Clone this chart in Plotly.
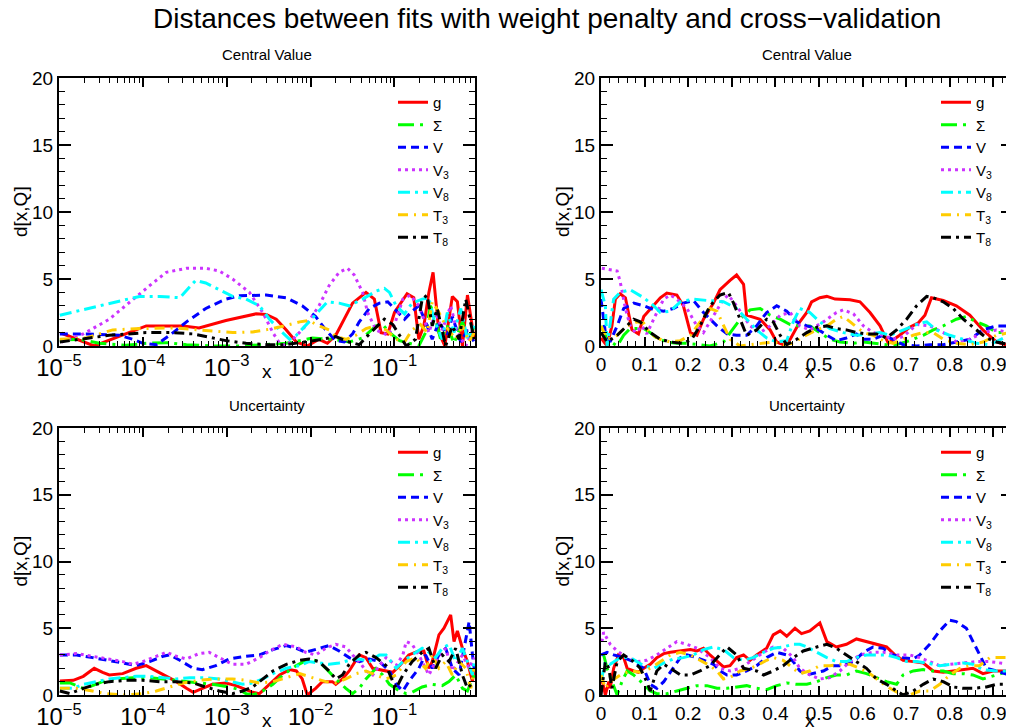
import plotly.graph_objects as go

# ---------------- data: Central Value, log-x panel (log10 x, d) ----------------
cv_log_lx_g = [-4.97,-4.58,-3.96,-3.52,-3.33,-3.01,-2.65,-2.53,-2.41,-2.29,-2.17,-2.04,-1.90,-1.80,-1.70,-1.50,-1.34,-1.24,-1.16,-1.08,-1.00,-0.85,-0.77,-0.71,-0.65,-0.59,-0.54,-0.47,-0.40,-0.31,-0.25,-0.19,-0.13,-0.09,-0.05]
cv_log_d_g  = [0.95,0.0,1.5,1.5,1.35,1.9,2.4,2.35,2.0,1.2,0.3,0.0,0.5,0.2,0.8,3.2,4.0,3.5,1.0,0.9,2.5,3.9,3.6,0.5,1.5,4.0,5.5,1.0,0.0,3.7,3.3,0.0,3.8,2.0,0.5]
cv_log_lx_S = [-4.99,-4.75,-4.52,-4.20,-3.96,-3.72,-3.48,-3.17,-2.85,-2.53,-2.29,-2.13,-1.98,-1.74,-1.54,-1.38,-1.22,-1.14,-1.06,-0.94,-0.83,-0.71,-0.63,-0.57,-0.51,-0.45,-0.37,-0.29,-0.19,-0.11,-0.05]
cv_log_d_S  = [0.45,0.5,0.2,0.05,0.2,0.25,0.1,0.0,0.0,0.1,0.2,0.4,0.6,0.5,0.3,0.6,1.5,1.6,1.0,0.4,0.2,0.0,1.0,3.0,2.0,0.5,1.5,0.2,1.8,0.5,1.5]
cv_log_lx_V = [-4.99,-4.67,-4.28,-4.12,-4.00,-3.84,-3.68,-3.48,-3.25,-3.01,-2.85,-2.53,-2.29,-2.10,-1.94,-1.82,-1.70,-1.60,-1.50,-1.42,-1.30,-1.18,-1.08,-1.00,-0.88,-0.79,-0.71,-0.61,-0.55,-0.47,-0.37,-0.31,-0.21,-0.13,-0.05]
cv_log_d_V  = [0.9,0.9,0.8,0.5,0.2,0.1,0.8,1.8,2.8,3.5,3.75,3.8,3.6,3.0,2.2,1.2,0.4,0.3,0.9,1.8,2.8,3.2,3.3,2.8,2.0,2.6,3.0,1.5,0.5,1.8,0.8,2.2,0.3,1.2,0.3]
cv_log_lx_V3 = [-4.97,-4.71,-4.40,-4.12,-3.92,-3.72,-3.48,-3.25,-3.09,-2.93,-2.73,-2.57,-2.45,-2.37,-2.29,-2.21,-2.06,-1.90,-1.78,-1.66,-1.56,-1.48,-1.38,-1.32,-1.22,-1.08,-1.00,-0.90,-0.81,-0.71,-0.59,-0.51,-0.43,-0.33,-0.25,-0.15,-0.05]
cv_log_d_V3  = [0.3,0.9,2.0,3.5,4.5,5.5,5.8,5.8,5.6,5.0,4.0,2.5,1.0,0.2,0.0,0.5,1.5,3.0,4.5,5.5,5.8,5.3,4.0,2.5,1.2,0.8,1.6,3.5,3.8,3.0,1.0,2.5,1.2,3.0,1.0,0.0,1.5]
cv_log_lx_V8 = [-4.99,-4.52,-4.04,-3.80,-3.56,-3.37,-3.25,-3.09,-2.93,-2.77,-2.61,-2.49,-2.37,-2.25,-2.17,-2.02,-1.90,-1.80,-1.66,-1.54,-1.38,-1.22,-1.12,-1.06,-0.98,-0.88,-0.79,-0.67,-0.59,-0.53,-0.43,-0.37,-0.29,-0.21,-0.13,-0.05]
cv_log_d_V8  = [2.3,3.0,3.7,3.7,3.6,4.9,4.7,4.2,3.7,3.5,3.0,2.0,1.2,0.5,0.8,1.8,2.6,3.3,3.2,3.0,3.5,4.1,4.3,4.0,3.0,2.4,3.2,3.5,3.6,2.0,0.5,2.5,1.0,2.8,0.5,1.5]
cv_log_lx_T3 = [-4.99,-4.67,-4.52,-4.36,-4.04,-3.64,-3.33,-2.93,-2.69,-2.45,-2.25,-2.13,-2.02,-1.90,-1.78,-1.70,-1.58,-1.46,-1.34,-1.22,-1.10,-0.98,-0.88,-0.79,-0.69,-0.61,-0.55,-0.47,-0.39,-0.27,-0.19,-0.11,-0.05]
cv_log_d_T3  = [0.5,0.6,0.9,1.2,1.3,1.35,1.2,1.0,1.05,1.3,1.6,1.8,1.9,1.5,1.2,0.7,0.5,0.8,1.3,1.5,1.2,0.5,0.3,1.2,1.6,1.0,3.3,2.5,1.5,0.5,1.5,0.3,1.0]
cv_log_lx_T8 = [-4.99,-4.67,-4.40,-3.96,-3.64,-3.40,-3.25,-3.01,-2.77,-2.53,-2.29,-2.06,-1.86,-1.70,-1.54,-1.42,-1.30,-1.12,-1.02,-0.94,-0.86,-0.75,-0.67,-0.61,-0.55,-0.49,-0.43,-0.39,-0.31,-0.23,-0.15,-0.09,-0.05]
cv_log_d_T8  = [0.3,0.6,0.8,1.0,1.0,0.9,0.7,0.4,0.2,0.1,0.1,0.3,0.5,0.7,0.3,0.1,0.9,2.0,1.6,0.8,0.0,0.5,3.5,3.8,1.5,2.8,1.0,0.0,1.5,0.5,3.5,1.8,0.5]

# ---------------- data: Central Value, linear-x panel ----------------
cv_lin_x_g = [0.000,0.014,0.025,0.033,0.044,0.056,0.071,0.086,0.098,0.121,0.136,0.151,0.174,0.189,0.205,0.220,0.235,0.258,0.273,0.296,0.311,0.327,0.334,0.365,0.388,0.403,0.418,0.434,0.456,0.472,0.483,0.502,0.518,0.537,0.571,0.594,0.617,0.640,0.659,0.685,0.708,0.727,0.743,0.758,0.785,0.815,0.846,0.876,0.907,0.937]
cv_lin_d_g = [0.6,0.0,1.5,3.5,3.9,3.6,1.2,0.9,2.2,3.0,3.6,3.95,3.8,3.0,1.0,0.8,2.0,3.2,4.2,4.9,5.3,4.6,2.3,2.0,1.2,0.3,0.1,0.5,1.8,2.5,3.3,3.6,3.7,3.5,3.45,3.3,2.5,1.5,0.2,0.8,1.4,1.7,2.3,3.6,3.4,3.0,2.3,1.2,0.3,0.0]
cv_lin_x_S = [0.000,0.014,0.037,0.052,0.067,0.098,0.113,0.128,0.151,0.174,0.197,0.220,0.250,0.281,0.296,0.319,0.342,0.365,0.388,0.411,0.434,0.456,0.479,0.502,0.525,0.548,0.579,0.602,0.624,0.655,0.678,0.708,0.739,0.762,0.785,0.815,0.838,0.861,0.884,0.907,0.937]
cv_lin_d_S = [1.5,0.5,0.0,0.8,1.3,1.3,1.0,0.6,0.3,0.2,0.2,0.1,0.0,0.3,1.0,2.0,2.7,2.8,2.3,2.0,1.6,1.5,1.5,1.0,0.5,0.3,0.2,0.3,0.2,0.1,0.1,0.4,0.8,1.2,1.5,2.0,2.2,1.8,1.5,1.0,1.0]
cv_lin_x_V = [0.000,0.010,0.021,0.037,0.052,0.075,0.098,0.121,0.144,0.166,0.189,0.212,0.235,0.266,0.289,0.311,0.334,0.357,0.380,0.403,0.426,0.449,0.472,0.495,0.518,0.540,0.563,0.586,0.602,0.624,0.647,0.670,0.693,0.724,0.754,0.785,0.815,0.846,0.876,0.907,0.937]
cv_lin_d_V = [3.5,1.0,0.3,1.5,2.8,3.2,3.0,2.7,2.6,2.8,3.2,3.4,2.5,1.5,0.9,0.8,0.8,1.5,2.5,3.0,2.6,1.8,1.5,1.3,0.8,0.4,0.6,0.9,0.5,0.5,0.8,0.5,0.1,0.0,0.1,0.1,0.3,0.5,1.2,1.5,1.5]
cv_lin_x_V3 = [0.002,0.037,0.044,0.056,0.067,0.079,0.094,0.105,0.128,0.144,0.159,0.174,0.197,0.220,0.235,0.258,0.281,0.292,0.311,0.342,0.365,0.388,0.411,0.434,0.456,0.479,0.510,0.540,0.556,0.579,0.602,0.624,0.647,0.670,0.693,0.724,0.754,0.785,0.815,0.846,0.876,0.907,0.937]
cv_lin_d_V3 = [5.8,5.6,4.8,2.8,1.5,1.0,1.5,0.9,2.5,3.5,3.8,3.5,2.8,1.5,1.0,2.2,3.5,3.8,3.0,1.5,1.0,1.5,2.3,2.5,1.5,1.2,1.8,2.5,2.7,2.4,1.5,1.0,0.8,0.5,0.7,1.6,1.5,1.0,0.3,0.5,1.0,1.2,1.0]
cv_lin_x_V8 = [0.000,0.010,0.014,0.029,0.044,0.067,0.098,0.121,0.136,0.159,0.182,0.212,0.243,0.281,0.311,0.334,0.357,0.380,0.403,0.426,0.441,0.456,0.479,0.502,0.525,0.556,0.586,0.617,0.640,0.663,0.685,0.708,0.731,0.747,0.769,0.800,0.831,0.861,0.892,0.922,0.937]
cv_lin_d_V8 = [4.2,3.0,0.0,3.5,4.0,4.2,3.6,3.0,2.5,2.6,3.3,3.5,3.4,3.3,2.8,2.0,1.2,0.6,0.3,0.4,1.8,2.8,2.5,1.8,1.3,1.0,0.8,0.9,1.0,0.8,1.1,1.4,1.7,1.8,1.2,0.8,0.5,0.2,0.1,0.6,0.8]
cv_lin_x_T3 = [0.000,0.014,0.037,0.060,0.082,0.098,0.113,0.136,0.159,0.182,0.205,0.227,0.250,0.266,0.281,0.296,0.319,0.342,0.373,0.395,0.418,0.441,0.464,0.495,0.518,0.540,0.556,0.579,0.602,0.624,0.647,0.670,0.693,0.716,0.739,0.762,0.785,0.815,0.846,0.876,0.907,0.937]
cv_lin_d_T3 = [1.5,0.5,0.8,1.5,1.8,1.7,0.9,0.5,0.3,0.4,0.8,1.8,2.8,2.6,1.5,0.5,0.0,0.1,0.2,0.3,0.1,0.2,0.7,1.2,1.5,2.0,2.2,1.6,1.0,0.8,0.4,0.2,0.5,0.8,1.0,1.0,0.5,0.2,0.1,0.3,0.8,1.0]
cv_lin_x_T8 = [0.000,0.014,0.037,0.060,0.075,0.090,0.113,0.136,0.159,0.189,0.208,0.227,0.250,0.273,0.292,0.304,0.319,0.334,0.357,0.380,0.395,0.411,0.426,0.449,0.472,0.495,0.518,0.540,0.563,0.586,0.609,0.632,0.655,0.678,0.701,0.724,0.747,0.762,0.785,0.808,0.831,0.861,0.884,0.907,0.937]
cv_lin_d_T8 = [1.0,0.3,0.8,1.5,2.0,1.8,1.0,0.5,0.3,0.2,0.5,1.5,3.0,3.8,4.0,3.2,2.0,0.8,1.2,2.0,1.8,0.8,0.1,0.5,1.0,1.4,1.5,1.3,1.2,1.0,0.9,0.9,0.6,1.2,2.0,3.0,3.7,3.6,3.3,2.8,2.0,1.2,0.6,0.3,0.1]

# ---------------- data: Uncertainty, log-x panel ----------------
un_log_lx_g = [-4.99,-4.83,-4.71,-4.58,-4.48,-4.40,-4.24,-4.08,-3.96,-3.84,-3.72,-3.60,-3.48,-3.40,-3.29,-3.17,-3.01,-2.89,-2.77,-2.69,-2.61,-2.49,-2.37,-2.25,-2.17,-2.10,-2.04,-1.94,-1.86,-1.74,-1.70,-1.62,-1.54,-1.42,-1.34,-1.26,-1.10,-1.02,-0.94,-0.83,-0.71,-0.65,-0.59,-0.55,-0.47,-0.41,-0.33,-0.29,-0.25,-0.19,-0.13,-0.07,-0.05]
un_log_d_g  = [1.05,1.1,1.4,2.0,1.7,1.5,1.6,2.0,2.2,1.8,1.4,1.0,0.5,0.2,0.5,0.8,0.9,0.7,0.4,0.2,0.1,0.8,1.5,1.9,1.8,1.2,0.0,0.5,1.0,1.0,0.8,1.2,1.8,3.0,2.8,2.0,1.8,1.7,2.2,3.0,3.3,3.3,2.0,2.5,4.5,5.0,6.0,4.0,4.8,3.5,2.5,1.0,2.0]
un_log_lx_S = [-4.99,-4.87,-4.71,-4.60,-4.48,-4.32,-4.12,-3.92,-3.76,-3.60,-3.44,-3.29,-3.17,-2.97,-2.85,-2.77,-2.69,-2.57,-2.45,-2.33,-2.17,-2.02,-1.90,-1.82,-1.70,-1.58,-1.50,-1.42,-1.34,-1.22,-1.14,-1.06,-0.94,-0.86,-0.79,-0.67,-0.55,-0.43,-0.35,-0.27,-0.19,-0.13,-0.05]
un_log_d_S  = [0.9,0.9,0.5,0.7,1.0,1.2,1.3,1.3,1.2,1.1,1.0,0.9,0.8,0.6,0.4,0.1,0.0,0.3,0.8,1.5,2.2,2.7,2.5,2.0,1.2,0.5,0.1,0.5,1.2,2.0,1.5,0.8,0.3,0.1,0.2,0.6,0.8,0.7,1.0,1.5,0.5,0.3,1.5]
un_log_lx_V = [-4.99,-4.79,-4.60,-4.40,-4.24,-4.08,-3.92,-3.76,-3.68,-3.56,-3.40,-3.29,-3.13,-2.97,-2.77,-2.61,-2.45,-2.29,-2.17,-2.06,-1.90,-1.78,-1.66,-1.54,-1.42,-1.30,-1.18,-1.06,-0.98,-0.90,-0.83,-0.71,-0.63,-0.55,-0.47,-0.39,-0.31,-0.23,-0.17,-0.11,-0.07,-0.05]
un_log_d_V  = [3.0,3.0,2.8,2.6,2.4,2.2,2.5,2.9,3.0,2.6,2.0,1.9,2.2,2.7,2.9,3.0,3.4,3.7,3.5,3.2,3.5,3.7,3.3,2.8,2.5,2.7,2.5,1.8,0.8,0.3,1.0,2.0,3.0,2.0,3.0,3.5,2.0,1.5,3.5,5.5,3.0,2.0]
un_log_lx_V3 = [-4.99,-4.79,-4.60,-4.40,-4.24,-4.12,-4.00,-3.84,-3.72,-3.60,-3.48,-3.33,-3.21,-3.09,-2.93,-2.77,-2.61,-2.49,-2.33,-2.17,-2.06,-1.94,-1.82,-1.70,-1.58,-1.50,-1.42,-1.34,-1.26,-1.18,-1.10,-0.98,-0.90,-0.86,-0.79,-0.71,-0.59,-0.51,-0.39,-0.31,-0.19,-0.11,-0.05]
un_log_d_V3  = [3.0,3.1,2.9,2.7,2.5,2.3,2.5,2.9,3.2,2.9,2.7,3.1,3.2,2.8,2.3,2.3,2.8,3.3,3.8,3.6,3.2,3.0,3.5,3.8,3.6,3.0,2.5,1.8,1.5,2.2,2.8,2.2,3.0,4.0,3.8,3.0,1.5,2.5,3.5,1.8,3.0,2.0,2.8]
un_log_lx_V8 = [-4.99,-4.83,-4.71,-4.56,-4.40,-4.24,-4.08,-3.92,-3.76,-3.60,-3.44,-3.25,-3.09,-2.93,-2.81,-2.69,-2.57,-2.45,-2.29,-2.13,-2.02,-1.90,-1.78,-1.66,-1.54,-1.42,-1.30,-1.18,-1.10,-0.98,-0.90,-0.79,-0.67,-0.59,-0.51,-0.43,-0.35,-0.27,-0.19,-0.13,-0.07,-0.05]
un_log_d_V8  = [0.5,0.5,0.8,1.0,1.2,1.3,1.4,1.4,1.3,1.2,1.3,1.3,1.2,1.0,0.8,0.9,1.2,1.6,2.0,2.2,2.5,2.4,2.3,2.4,2.6,2.7,2.5,3.0,3.0,2.0,2.5,3.0,3.5,3.2,2.8,3.5,3.8,2.5,3.5,2.5,1.5,2.5]
un_log_lx_T3 = [-4.99,-4.79,-4.60,-4.44,-4.24,-4.00,-3.84,-3.68,-3.52,-3.33,-3.13,-2.93,-2.77,-2.61,-2.45,-2.29,-2.13,-1.98,-1.82,-1.70,-1.58,-1.46,-1.34,-1.22,-1.10,-0.98,-0.86,-0.75,-0.63,-0.55,-0.47,-0.39,-0.31,-0.23,-0.15,-0.09,-0.05]
un_log_d_T3  = [0.5,0.5,0.3,0.1,0.0,0.1,0.3,0.6,0.9,1.1,1.2,1.2,1.1,0.9,1.0,1.3,1.6,1.3,1.0,0.9,1.2,1.6,1.8,1.5,1.2,1.5,2.5,2.8,2.0,3.0,2.0,2.5,1.5,2.5,2.0,0.5,2.0]
un_log_lx_T8 = [-4.99,-4.87,-4.71,-4.56,-4.40,-4.20,-4.00,-3.80,-3.60,-3.40,-3.25,-3.09,-2.93,-2.81,-2.69,-2.57,-2.45,-2.29,-2.13,-2.02,-1.90,-1.78,-1.70,-1.62,-1.54,-1.42,-1.34,-1.22,-1.10,-1.02,-0.98,-0.90,-0.79,-0.67,-0.59,-0.51,-0.43,-0.35,-0.27,-0.19,-0.13,-0.05]
un_log_d_T8  = [0.3,0.1,0.5,0.8,1.0,1.1,1.1,1.0,1.0,0.9,0.6,0.3,0.1,0.3,0.6,1.2,1.8,2.3,2.6,2.7,2.5,1.8,1.2,1.5,2.3,3.0,3.2,2.8,2.2,1.0,0.5,1.5,2.5,3.2,3.5,2.0,3.0,2.5,3.5,1.5,0.5,1.0]

# ---------------- data: Uncertainty, linear-x panel ----------------
un_lin_x_g = [0.000,0.010,0.018,0.021,0.029,0.040,0.052,0.060,0.075,0.086,0.098,0.113,0.128,0.144,0.159,0.182,0.205,0.220,0.235,0.250,0.266,0.281,0.296,0.311,0.327,0.342,0.357,0.380,0.395,0.411,0.426,0.445,0.460,0.479,0.502,0.518,0.540,0.563,0.586,0.609,0.632,0.655,0.674,0.693,0.716,0.739,0.762,0.785,0.808,0.831,0.853,0.876,0.899,0.937]
un_lin_d_g = [1.5,0.0,1.0,0.5,2.0,3.0,2.8,2.0,1.8,1.7,2.0,2.3,2.8,3.1,3.2,3.3,3.4,3.3,3.5,3.0,2.5,2.1,2.2,2.8,3.0,2.6,3.0,3.5,4.5,4.8,4.4,5.0,4.6,4.8,5.4,4.0,3.6,3.8,4.2,4.0,3.8,3.6,3.0,2.6,2.5,2.4,1.8,1.7,1.8,1.9,2.0,1.6,1.8,1.8]
un_lin_x_S = [0.006,0.014,0.037,0.048,0.060,0.075,0.098,0.113,0.128,0.151,0.174,0.197,0.220,0.243,0.266,0.289,0.311,0.334,0.357,0.380,0.403,0.426,0.449,0.472,0.495,0.518,0.540,0.563,0.586,0.609,0.632,0.655,0.678,0.693,0.716,0.739,0.762,0.785,0.808,0.831,0.853,0.876,0.907,0.937]
un_lin_d_S = [3.0,2.0,0.0,1.0,1.8,1.5,0.8,0.3,0.1,0.1,0.3,0.5,0.7,0.7,0.5,0.5,0.6,0.7,0.5,0.4,0.7,0.9,0.8,0.8,1.0,1.3,1.5,1.5,1.8,1.6,1.3,1.0,0.8,1.5,1.8,1.9,1.8,1.8,1.6,1.6,1.5,1.2,1.5,1.8]
un_lin_x_V = [0.000,0.014,0.029,0.052,0.075,0.098,0.113,0.128,0.144,0.166,0.182,0.197,0.220,0.243,0.258,0.273,0.289,0.311,0.334,0.357,0.380,0.403,0.426,0.441,0.456,0.472,0.487,0.510,0.532,0.556,0.579,0.602,0.624,0.647,0.670,0.693,0.716,0.731,0.754,0.777,0.800,0.815,0.838,0.861,0.884,0.907,0.937]
un_lin_d_V = [3.0,3.2,3.0,2.8,2.5,2.0,0.8,0.5,1.0,2.0,2.8,3.0,2.8,2.5,2.3,1.8,1.5,1.5,1.8,2.2,2.8,3.2,3.0,2.5,1.8,1.5,1.6,1.8,2.2,2.2,2.5,3.2,3.6,3.5,3.0,2.8,2.7,3.0,3.8,4.8,5.6,5.5,5.0,3.5,2.0,1.8,1.5]
un_lin_x_V3 = [0.002,0.006,0.021,0.037,0.060,0.082,0.105,0.128,0.151,0.174,0.197,0.220,0.250,0.273,0.296,0.319,0.342,0.373,0.395,0.418,0.441,0.456,0.479,0.502,0.525,0.548,0.571,0.594,0.624,0.647,0.678,0.708,0.731,0.754,0.777,0.800,0.831,0.861,0.892,0.937]
un_lin_d_V3 = [4.0,4.7,3.8,3.3,2.8,2.5,2.6,3.0,3.5,4.0,3.8,3.5,2.8,2.0,1.8,2.0,2.5,3.2,3.6,3.5,2.8,2.0,1.5,1.2,1.3,1.8,2.5,3.0,3.2,3.2,3.0,3.0,2.8,2.5,2.2,2.3,2.4,2.5,2.5,2.3]
un_lin_x_V8 = [0.000,0.010,0.021,0.044,0.067,0.098,0.121,0.144,0.166,0.189,0.212,0.235,0.258,0.281,0.304,0.327,0.349,0.373,0.395,0.418,0.441,0.456,0.472,0.495,0.518,0.540,0.563,0.586,0.609,0.632,0.655,0.678,0.701,0.724,0.747,0.777,0.808,0.831,0.853,0.876,0.907,0.937]
un_lin_d_V8 = [1.0,2.5,2.3,2.8,2.8,2.2,2.0,2.4,2.7,2.8,3.0,3.4,3.6,3.4,2.8,2.6,2.8,3.2,3.5,3.6,3.8,3.8,3.6,3.2,2.8,2.5,2.5,2.8,3.0,3.0,3.0,2.8,2.5,2.5,2.4,2.2,2.3,2.4,2.3,1.9,1.8,1.8]
un_lin_x_T3 = [0.000,0.010,0.021,0.044,0.067,0.090,0.113,0.136,0.159,0.182,0.205,0.227,0.250,0.266,0.281,0.296,0.319,0.342,0.357,0.380,0.395,0.418,0.441,0.456,0.479,0.502,0.525,0.548,0.571,0.594,0.617,0.640,0.663,0.685,0.708,0.731,0.754,0.777,0.800,0.823,0.846,0.868,0.892,0.915,0.937]
un_lin_d_T3 = [1.5,0.5,1.0,1.5,1.8,1.7,2.0,2.5,3.0,3.2,3.0,2.6,2.2,1.8,1.2,1.3,1.8,2.0,2.2,2.6,2.8,2.6,2.0,1.6,1.8,2.2,2.2,2.3,2.3,2.0,1.6,1.0,0.5,0.1,0.0,0.3,0.3,0.8,1.5,2.0,2.2,2.2,2.8,2.8,2.8]
un_lin_x_T8 = [0.000,0.010,0.018,0.025,0.037,0.052,0.075,0.090,0.105,0.113,0.128,0.144,0.159,0.182,0.205,0.227,0.250,0.273,0.289,0.311,0.327,0.357,0.373,0.395,0.418,0.441,0.464,0.495,0.518,0.540,0.563,0.586,0.609,0.632,0.655,0.678,0.693,0.716,0.739,0.762,0.785,0.808,0.831,0.853,0.884,0.907,0.937]
un_lin_d_T8 = [0.0,2.5,2.0,0.5,2.5,3.0,2.5,2.0,1.0,0.3,1.8,2.3,2.0,1.5,1.5,1.8,2.2,3.0,3.6,3.0,2.0,1.8,1.5,1.8,2.2,2.8,3.3,3.6,3.8,3.5,3.0,2.5,2.0,1.2,0.8,0.3,0.0,0.3,0.8,1.2,1.0,0.6,0.5,0.5,0.6,0.8,0.8]

# ---------------- labels ----------------
main_title = "Distances between fits with weight penalty and cross\u2212validation"
panel_titles = ["Central Value", "Central Value", "Uncertainty", "Uncertainty"]
series_names = ["g", "\u03a3", "V", "V<sub>3</sub>", "V<sub>8</sub>", "T<sub>3</sub>", "T<sub>8</sub>"]
series_keys = ["g", "S", "V", "V3", "V8", "T3", "T8"]
y_title = "d[x,Q]"
x_title = "x"

colors = {"g": "#ff0000", "S": "#00ff00", "V": "#0000ff", "V3": "#cc33ff",
          "V8": "#00ffff", "T3": "#ffcc00", "T8": "#000000"}
dashes = {"g": "solid", "S": "16px,6px,3px,6px", "V": "8px,5px", "V3": "3px,4px",
          "V8": "12px,5px,3px,5px", "T3": "10px,6px,2px,6px", "T8": "10px,5px,3px,5px"}

W, H = 1014, 727
OFF = 8  # the page places the figure 8 px in from the top-left corner
FONT = "Liberation Sans, Arial, Helvetica, sans-serif"

def px_x(p):
    return (p - OFF) / W

def px_y(p):
    return 1 - (p - OFF) / H

# panel frames in page pixels: (left, right, top, bottom)
frames = {
    "tl": (59, 475, 78, 346),
    "tr": (601, 1013, 78, 346),
    "bl": (59, 475, 428, 695),
    "br": (601, 1013, 428, 695),
}

fig = go.Figure()
g = globals()

panels = [
    ("tl", "cv_log", True, "x", "y", "legend"),
    ("tr", "cv_lin", False, "x2", "y2", "legend2"),
    ("bl", "un_log", True, "x3", "y3", "legend3"),
    ("br", "un_lin", False, "x4", "y4", "legend4"),
]

for key, prefix, is_log, xa, ya, lg in panels:
    for k, name in zip(series_keys, series_names):
        if is_log:
            xs = [10 ** v for v in g[f"{prefix}_lx_{k}"]]
        else:
            xs = g[f"{prefix}_x_{k}"]
        ys = g[f"{prefix}_d_{k}"]
        fig.add_trace(go.Scatter(
            x=xs, y=ys, mode="lines", name=name, xaxis=xa, yaxis=ya, legend=lg,
            line=dict(color=colors[k], width=3, dash=dashes[k]),
            hoverinfo="skip"))

common_axis = dict(showline=True, linecolor="black", linewidth=2, mirror="allticks",
                   showgrid=False, zeroline=False, ticks="inside", automargin=False,
                   tickcolor="black",
                   tickfont=dict(family=FONT, size=19, color="black"))

layout = dict(template="none", width=W, height=H, margin=dict(l=0, r=0, t=0, b=0, pad=0),
              paper_bgcolor="white", plot_bgcolor="white",
              font=dict(family=FONT, color="black"), showlegend=True)

axis_ids = [("xaxis", "yaxis", "x", "y"), ("xaxis2", "yaxis2", "x2", "y2"),
            ("xaxis3", "yaxis3", "x3", "y3"), ("xaxis4", "yaxis4", "x4", "y4")]
legend_ids = ["legend", "legend2", "legend3", "legend4"]
annotations = []

for (key, prefix, is_log, _, _, _), (xn, yn, xr, yr), lgid, ptitle in zip(panels, axis_ids, legend_ids, panel_titles):
    l, r, t, b = frames[key]
    xdom = [px_x(l), px_x(r)]
    ydom = [px_y(b), px_y(t)]
    if is_log:
        xax = dict(common_axis, type="log", range=[-5, -0.04], dtick=1,
                   exponentformat="power", showexponent="all", ticklen=9, tickwidth=1.5,
                   minor=dict(ticks="inside", ticklen=5, dtick="D1", tickwidth=1,
                              tickcolor="black", showgrid=False))
    else:
        xax = dict(common_axis, range=[0, 0.945], tick0=0, dtick=0.1, ticklen=9, tickwidth=1.5,
                   minor=dict(ticks="inside", ticklen=5, dtick=0.02, tickwidth=1,
                              tickcolor="black", showgrid=False))
    xax.update(domain=xdom, anchor=yr)
    yax = dict(common_axis, range=[0, 20], dtick=5, ticklen=12, tickwidth=1.5,
               minor=dict(ticks="inside", ticklen=6, dtick=1, tickwidth=1,
                          tickcolor="black", showgrid=False))
    yax.update(domain=ydom, anchor=xr)
    layout[xn] = xax
    layout[yn] = yax
    # legend inside the panel, top right
    lx = (r - 82) if key in ("tl", "bl") else (r - 77)
    layout[lgid] = dict(x=px_x(lx), y=px_y(t + 8), xref="paper", yref="paper",
                        xanchor="left", yanchor="top", bgcolor="rgba(0,0,0,0)",
                        borderwidth=0, itemwidth=30, tracegroupgap=0,
                        font=dict(family=FONT, size=15, color="black"))
    cx = (l + r) / 2 if key in ("tl", "bl") else 807
    annotations.append(dict(text=ptitle, x=px_x(cx), y=px_y(t - 23), xref="paper", yref="paper",
                            xanchor="center", yanchor="middle", showarrow=False,
                            font=dict(family=FONT, size=15, color="black")))
    annotations.append(dict(text=x_title, x=px_x((l + r) / 2 if key in ("tl", "bl") else 810),
                            y=px_y(b + 25), xref="paper", yref="paper", showarrow=False,
                            xanchor="center", yanchor="middle",
                            font=dict(family=FONT, size=19, color="black")))
    annotations.append(dict(text=y_title, x=px_x(l - 39), y=px_y((t + b) / 2), xref="paper", yref="paper",
                            showarrow=False, textangle=-90, xanchor="center", yanchor="middle",
                            font=dict(family=FONT, size=19, color="black")))

annotations.append(dict(text=main_title, x=px_x(547), y=px_y(18), xref="paper", yref="paper",
                        xanchor="center", yanchor="middle", showarrow=False,
                        font=dict(family=FONT, size=28, color="black")))
layout["annotations"] = annotations
fig.update_layout(**layout)

fig.write_html("out.html")
